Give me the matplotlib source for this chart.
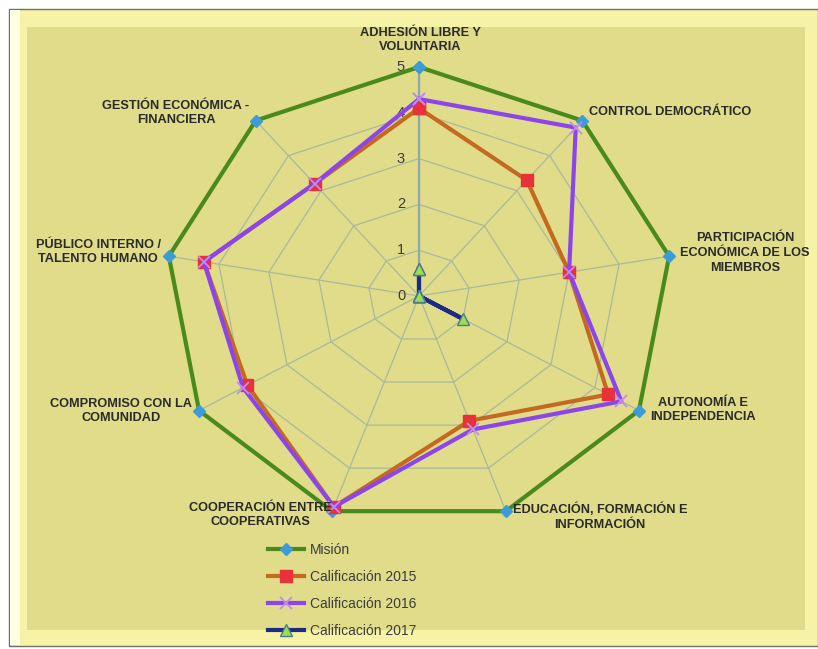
import numpy as np
import matplotlib
matplotlib.use("Agg")
import matplotlib.pyplot as plt
from matplotlib.patches import Rectangle

# Principles evaluated (clockwise from the top)
categories = [
    "ADHESIÓN LIBRE Y\nVOLUNTARIA",
    "CONTROL DEMOCRÁTICO",
    "PARTICIPACIÓN\nECONÓMICA DE LOS\nMIEMBROS",
    "AUTONOMÍA E\nINDEPENDENCIA",
    "EDUCACIÓN, FORMACIÓN E\nINFORMACIÓN",
    "COOPERACIÓN ENTRE\nCOOPERATIVAS",
    "COMPROMISO CON LA\nCOMUNIDAD",
    "PÚBLICO INTERNO /\nTALENTO HUMANO",
    "GESTIÓN ECONÓMICA -\nFINANCIERA",
]
mision = [5, 5, 5, 5, 5, 5, 5, 5, 5]
cal_2015 = [4.1, 3.3, 3.0, 4.3, 2.9, 4.9, 3.9, 4.3, 3.2]
cal_2016 = [4.3, 4.8, 3.0, 4.6, 3.1, 4.9, 4.0, 4.3, 3.2]
cal_2017 = [0.6, 0.0, 0.0, 1.0, 0.0, 0.0, 0.0, 0.0, 0.0]
series_names = ["Misión", "Calificación 2015", "Calificación 2016", "Calificación 2017"]
r_ticks = [0, 1, 2, 3, 4, 5]

FONT = ["Liberation Sans", "DejaVu Sans"]

W, H = 818, 649
fig = plt.figure(figsize=(W / 100, H / 100), dpi=100, facecolor="white")


def fx(px):
    return px / W


def fy(py):
    return 1 - py / H


# Beveled chart frame
fig.add_artist(Rectangle((fx(9), fy(646)), fx(818) - fx(9), fy(9) - fy(646),
                         transform=fig.transFigure, facecolor="#F6F3A6",
                         edgecolor="#6E6E6E", linewidth=1.0, zorder=0))
fig.add_artist(Rectangle((fx(10), fy(645)), fx(20) - fx(10), fy(10) - fy(645),
                         transform=fig.transFigure, facecolor="#FFFFE6",
                         edgecolor="none", zorder=0))
fig.add_artist(Rectangle((fx(27), fy(630)), fx(805) - fx(27), fy(27) - fy(630),
                         transform=fig.transFigure, facecolor="#E0DC8A",
                         edgecolor="none", zorder=0))

# Radar area (slightly wider than tall)
cx, cy = 419, 296
rx, ry = 254, 229
ax = fig.add_axes([fx(cx - rx), fy(cy + ry), (2 * rx) / W, (2 * ry) / H],
                  projection="polar")
ax.set_aspect("auto")
ax.set_theta_zero_location("N")
ax.set_theta_direction(-1)
ax.set_ylim(0, 5)
ax.patch.set_visible(False)
ax.spines["polar"].set_visible(False)
ax.grid(False)
ax.set_xticks([])
ax.set_yticks([])

n = len(categories)
theta = np.arange(n) * 2 * np.pi / n
theta_c = np.append(theta, theta[0])


def closed(vals):
    return np.append(vals, vals[0])


# Spider-web grid
grid_col = "#A9B99A"
for lvl in r_ticks[1:]:
    ax.plot(theta_c, [lvl] * (n + 1), color=grid_col, lw=0.9, zorder=1, clip_on=False)
for t in theta:
    ax.plot([t, t], [0, 5], color=grid_col, lw=0.9, zorder=1, clip_on=False)
ax.plot([0, 0], [0, 5], color="#8FA8A8", lw=1.6, zorder=1, clip_on=False)

# Value scale along the top spoke
for k in r_ticks:
    ax.annotate(str(k), xy=(0, k), xytext=(-18, 0), textcoords="offset pixels",
                ha="center", va="center", fontsize=10.5, color="#3C3C3C",
                family=FONT, annotation_clip=False)

styles = [
    dict(color="#4A8A1C", lw=3.0, marker="D", ms=6.5, mfc="#3A9CD8", mec="#3A9CD8"),
    dict(color="#C46A20", lw=3.0, marker="s", ms=9, mfc="#E8323A", mec="#E8323A"),
    dict(color="#8C44EC", lw=3.0, marker="x", ms=9, mew=1.3, mec="#C28AF2"),
    dict(color="#1C2C84", lw=3.0, marker="^", ms=9, mfc="#9CDE52", mec="#4C7A8C"),
]
handles = []
for vals, name, st in zip([mision, cal_2015, cal_2016, cal_2017], series_names, styles):
    ln, = ax.plot(theta_c, closed(vals), label=name, zorder=3, clip_on=False, **st)
    handles.append(ln)

# Category labels
label_pos = [
    (420, 40, "center"),
    (589, 112, "left"),
    (745, 253, "center"),
    (703, 410, "center"),
    (600, 517, "center"),
    (260, 515, "center"),
    (121, 411, "center"),
    (98, 252, "center"),
    (176, 113, "center"),
]
for text, (px, py, ha) in zip(categories, label_pos):
    fig.text(fx(px), fy(py), text, ha=ha, va="center", multialignment="center",
             fontsize=9.2, fontweight="bold", color="#2A2A2A", linespacing=1.3,
             family=FONT)

leg = fig.legend(handles=handles, loc="upper left",
                 bbox_to_anchor=(fx(255), fy(530)), frameon=False,
                 handlelength=2.6, labelspacing=0.95, handletextpad=0.45,
                 prop=dict(family=FONT, size=10))
for t in leg.get_texts():
    t.set_color("#3C3C3C")

fig.savefig("out.png", dpi=100, facecolor="white")
